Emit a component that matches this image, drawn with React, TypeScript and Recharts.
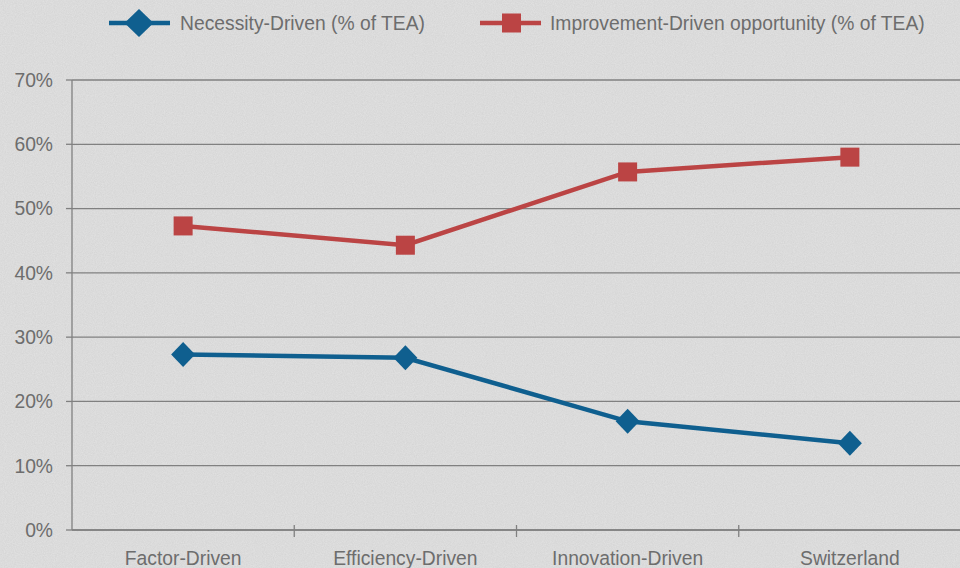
import React from "react";
import { LineChart, Line, XAxis, YAxis, CartesianGrid } from "recharts";

const categories = ["Factor-Driven", "Efficiency-Driven", "Innovation-Driven", "Switzerland"];
const necessity = [27.3, 26.8, 16.9, 13.5];
const improvement = [47.3, 44.3, 55.7, 58.0];
const yTicks = [0, 10, 20, 30, 40, 50, 60, 70];

const BLUE = "#0f5f8f";
const RED = "#bb4444";
const TEXT = "#6d6d6d";
const GRID = "#808080";
const FONT = "'Liberation Sans', Arial, Helvetica, sans-serif";
const FS = 19.3;

const data = categories.map((name, i) => ({
  name,
  necessity: necessity[i],
  improvement: improvement[i],
}));

const noise =
  "url(\"data:image/svg+xml;utf8,<svg xmlns='http://www.w3.org/2000/svg' width='300' height='300'><filter id='n'><feTurbulence type='fractalNoise' baseFrequency='0.9' numOctaves='3' stitchTiles='stitch'/><feColorMatrix values='0 0 0 0 1  0 0 0 0 1  0 0 0 0 1  0 0 0 0.6 0'/></filter><rect width='300' height='300' filter='url(%23n)' opacity='0.6'/></svg>\")";

const Diamond = (props: any) => {
  const { cx, cy, w = 24, h = 25 } = props;
  if (cx == null || cy == null) return null;
  return (
    <polygon
      points={`${cx},${cy - h / 2} ${cx + w / 2},${cy} ${cx},${cy + h / 2} ${cx - w / 2},${cy}`}
      fill={BLUE}
    />
  );
};

const Square = (props: any) => {
  const { cx, cy, s = 19 } = props;
  if (cx == null || cy == null) return null;
  return <rect x={cx - s / 2} y={cy - s / 2} width={s} height={s} fill={RED} />;
};

const BAND = 222.25;

const CatTick = (props: any) => {
  const { x, payload } = props;
  return (
    <g>
      {payload.index > 0 && (
        <line x1={x - BAND / 2} x2={x - BAND / 2} y1={525} y2={537} stroke={GRID} strokeWidth={1.3} />
      )}
      <text x={x} y={565} textAnchor="middle" fill={TEXT} fontSize={FS} fontFamily={FONT}>
        {payload.value}
      </text>
    </g>
  );
};

const LegendItem = ({ kind, x, label, textX }: any) => (
  <g>
    <line x1={x} x2={x + 61} y1={23} y2={23} stroke={kind === "d" ? BLUE : RED} strokeWidth={4.5} />
    {kind === "d" ? <Diamond cx={x + 30} cy={23} w={29} h={28} /> : <Square cx={x + 31.5} cy={23} s={19} />}
    <text x={textX} y={23} dy="0.36em" fill={TEXT} fontSize={FS} fontFamily={FONT}>
      {label}
    </text>
  </g>
);

export default function App() {
  return (
    <div
      style={{
        position: "fixed",
        left: 0,
        top: 0,
        width: 960,
        height: 568,
        overflow: "hidden",
        backgroundColor: "#d3d3d3",
        backgroundImage: noise,
      }}
    >
      <svg width={960} height={50} style={{ position: "absolute", left: 0, top: 0 }}>
        <LegendItem kind="d" x={109} textX={180} label="Necessity-Driven (% of TEA)" />
        <LegendItem kind="s" x={480} textX={550} label="Improvement-Driven opportunity (% of TEA)" />
      </svg>
      <div style={{ position: "absolute", left: 0, top: 0 }}>
        <LineChart
          width={975}
          height={568}
          data={data}
          margin={{ top: 80, right: 14, bottom: 0, left: 0 }}
        >
          <CartesianGrid vertical={false} stroke={GRID} strokeWidth={1.3} />
          <XAxis
            dataKey="name"
            height={38}
            padding={{ left: BAND / 2, right: BAND / 2 }}
            axisLine={{ stroke: GRID, strokeWidth: 1.3 }}
            tickLine={false}
            tick={<CatTick />}
            interval={0}
          />
          <YAxis
            width={72}
            domain={[0, 70]}
            ticks={yTicks}
            tickFormatter={(v: number) => `${v}%`}
            axisLine={{ stroke: GRID, strokeWidth: 1.3 }}
            tickLine={{ stroke: GRID, strokeWidth: 1.3 }}
            tickSize={6}
            tickMargin={13}
            tick={{ fill: TEXT, fontSize: FS, fontFamily: FONT }}
          />
          <Line
            dataKey="improvement"
            stroke={RED}
            strokeWidth={4.5}
            dot={<Square />}
            activeDot={false}
            isAnimationActive={false}
          />
          <Line
            dataKey="necessity"
            stroke={BLUE}
            strokeWidth={4.5}
            dot={<Diamond />}
            activeDot={false}
            isAnimationActive={false}
          />
        </LineChart>
      </div>
    </div>
  );
}
